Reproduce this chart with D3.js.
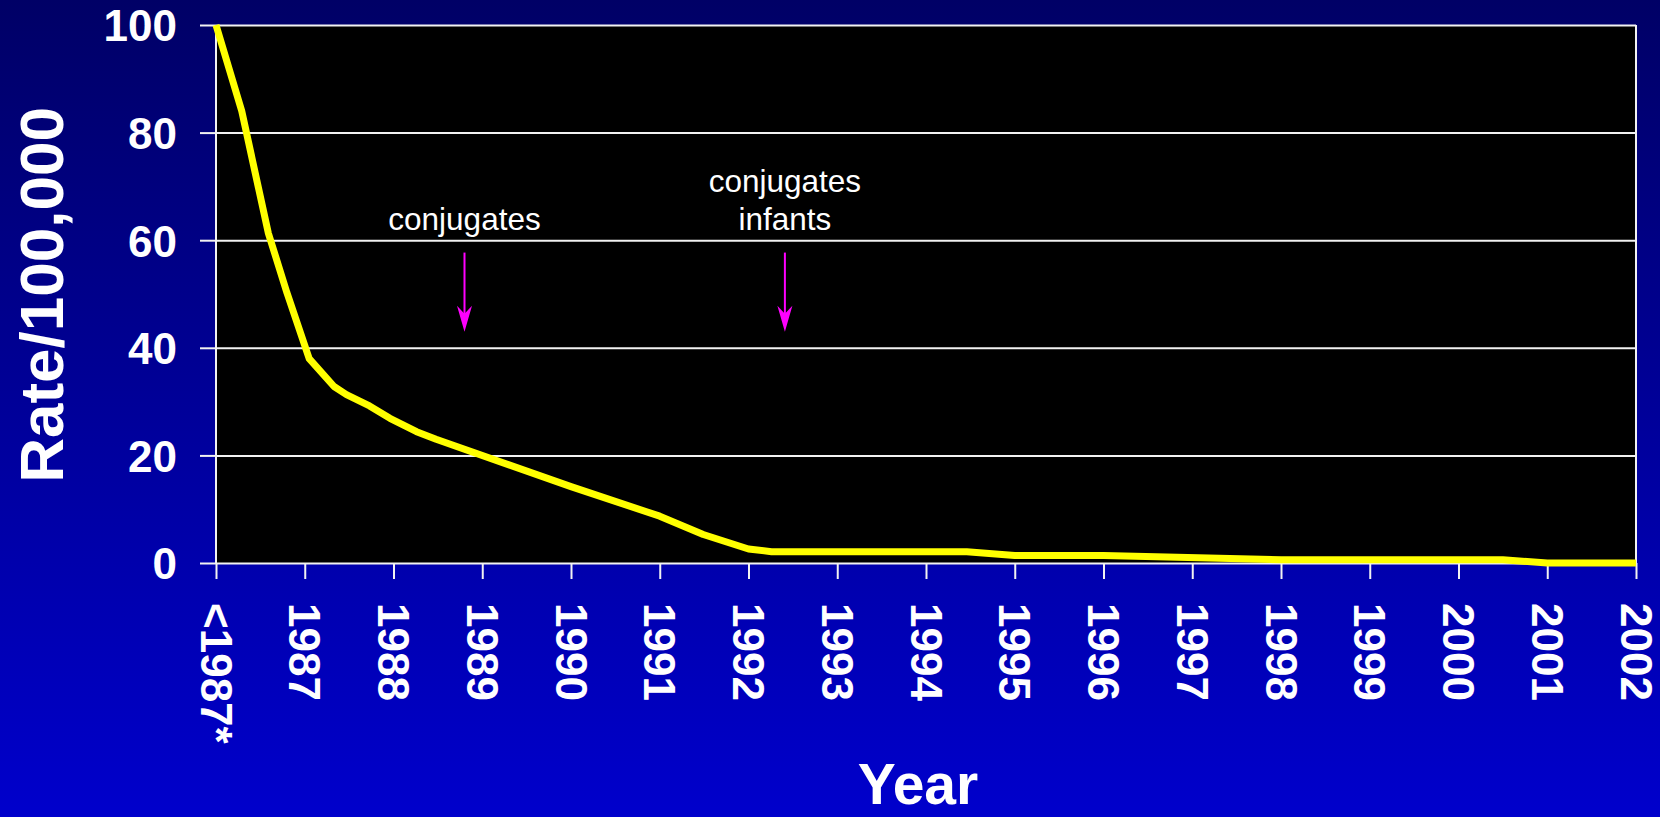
<!DOCTYPE html>
<html>
<head>
<meta charset="utf-8">
<script src="https://cdn.jsdelivr.net/npm/d3@7"></script>
<style>
  html, body { margin: 0; padding: 0; overflow: hidden; }
  svg { display: block; }
</style>
</head>
<body>
<svg id="chart" width="1660" height="817"></svg>
<script>
// Incidence rate per 100,000 (fractional years)
const years = [1986.00, 1986.29, 1986.59, 1986.80, 1987.05, 1987.33, 1987.47, 1987.73,
               1987.96, 1988.26, 1988.48, 1990.00, 1991.00, 1991.49, 1992.00, 1992.26,
               1994.46, 1995.00, 1996.00, 1998.00, 2000.50, 2001.00, 2002.00];
const rates = [100, 84, 61.3, 50.2, 38, 32.8, 31.3, 29.2,
               26.9, 24.4, 23.0, 14.2, 8.7, 5.3, 2.6, 2.1,
               2.1, 1.4, 1.4, 0.6, 0.6, 0, 0];

// Category ticks along the year axis
const tickYears  = d3.range(1986, 2003);
const tickLabels = ["<1987*", "1987", "1988", "1989", "1990", "1991", "1992", "1993", "1994",
                    "1995", "1996", "1997", "1998", "1999", "2000", "2001", "2002"];
const yTicks = [0, 20, 40, 60, 80, 100];

// Vaccine introduction markers
const markerYears  = [1988.8, 1992.41];
const markerLabels = [["conjugates"], ["conjugates", "infants"]];

const W = 1660, H = 817;
const plot = { left: 216, right: 1636, top: 25, bottom: 563 };
const FONT = "'Liberation Sans', Arial, Helvetica, sans-serif";

const svg = d3.select("#chart");
const defs = svg.append("defs");

const bg = defs.append("linearGradient")
  .attr("id", "bg").attr("x1", 0).attr("y1", 0).attr("x2", 0).attr("y2", 1);
bg.append("stop").attr("offset", "0%").attr("stop-color", "#000066");
bg.append("stop").attr("offset", "100%").attr("stop-color", "#0000cc");

svg.append("rect").attr("width", W).attr("height", H).attr("fill", "url(#bg)");

const x = d3.scaleLinear().domain([1986, 2002]).range([plot.left, plot.right]);
const y = d3.scaleLinear().domain([0, 100]).range([plot.bottom, plot.top]);

// Plot area
svg.append("rect")
  .attr("x", plot.left).attr("y", plot.top)
  .attr("width", plot.right - plot.left).attr("height", plot.bottom - plot.top)
  .attr("fill", "#000000");

// Horizontal gridlines with outward ticks and labels
const yAxis = svg.append("g")
  .attr("transform", `translate(${plot.left},0)`)
  .call(d3.axisLeft(y).tickValues(yTicks).tickSize(16).tickPadding(23)
        .tickFormat(d3.format("d")));
yAxis.select(".domain").remove();
yAxis.selectAll(".tick line").attr("stroke", "#f2f2f2").attr("stroke-width", 2);
yAxis.selectAll(".tick").append("line")
  .attr("x1", 0).attr("x2", plot.right - plot.left)
  .attr("stroke", "#f2f2f2").attr("stroke-width", 2);
yAxis.selectAll(".tick text")
  .attr("fill", "#ffffff").attr("font-family", FONT).attr("font-weight", "bold")
  .attr("font-size", 44).attr("dy", "0.36em");

// Vertical frame lines
svg.append("line")
  .attr("x1", plot.left).attr("x2", plot.left).attr("y1", plot.top).attr("y2", plot.bottom)
  .attr("stroke", "#f2f2f2").attr("stroke-width", 2);
svg.append("line")
  .attr("x1", plot.right).attr("x2", plot.right).attr("y1", plot.top).attr("y2", plot.bottom)
  .attr("stroke", "#f2f2f2").attr("stroke-width", 2);

// Year axis
const xAxis = svg.append("g")
  .attr("transform", `translate(0,${plot.bottom})`)
  .call(d3.axisBottom(x).tickValues(tickYears).tickSize(16)
        .tickFormat((d, i) => tickLabels[i]));
xAxis.select(".domain").remove();
xAxis.selectAll(".tick line").attr("stroke", "#f2f2f2").attr("stroke-width", 2);
xAxis.selectAll(".tick text")
  .attr("fill", "#ffffff").attr("font-family", FONT).attr("font-weight", "bold")
  .attr("font-size", 44)
  .attr("text-anchor", "start")
  .attr("y", 0).attr("dy", "0.36em")
  .attr("transform", "translate(0,40) rotate(90)");

// Rate curve
const line = d3.line().x((d, i) => x(years[i])).y(d => y(d));
svg.append("path")
  .datum(rates)
  .attr("d", line)
  .attr("fill", "none")
  .attr("stroke", "#ffff00")
  .attr("stroke-width", 7)
  .attr("stroke-linejoin", "round");

// Annotation arrows and captions
const arrowTop = 57.7, arrowTip = 43;
markerYears.forEach((yr, k) => {
  const ax = x(yr);
  const y0 = y(arrowTop), y1 = y(arrowTip);
  svg.append("line")
    .attr("x1", ax).attr("x2", ax).attr("y1", y0).attr("y2", y1 - 14)
    .attr("stroke", "#ff00ff").attr("stroke-width", 2);
  svg.append("path")
    .attr("d", `M${ax},${y1} L${ax - 7.5},${y1 - 26} L${ax},${y1 - 18} L${ax + 7.5},${y1 - 26} Z`)
    .attr("fill", "#ff00ff");
  const lines = markerLabels[k];
  lines.forEach((t, j) => {
    svg.append("text")
      .attr("x", ax)
      .attr("y", 230 - (lines.length - 1 - j) * 38)
      .attr("text-anchor", "middle")
      .attr("fill", "#ffffff")
      .attr("font-family", FONT)
      .attr("font-size", 31.5)
      .text(t);
  });
});

// Axis titles
svg.append("text")
  .attr("transform", `translate(63,${(plot.top + plot.bottom) / 2 + 1}) rotate(-90)`)
  .attr("text-anchor", "middle")
  .attr("fill", "#ffffff").attr("font-family", FONT).attr("font-weight", "bold")
  .attr("font-size", 62)
  .text("Rate/100,000");

svg.append("text")
  .attr("x", 918).attr("y", 804)
  .attr("text-anchor", "middle")
  .attr("fill", "#ffffff").attr("font-family", FONT).attr("font-weight", "bold")
  .attr("font-size", 57)
  .text("Year");
</script>
</body>
</html>
